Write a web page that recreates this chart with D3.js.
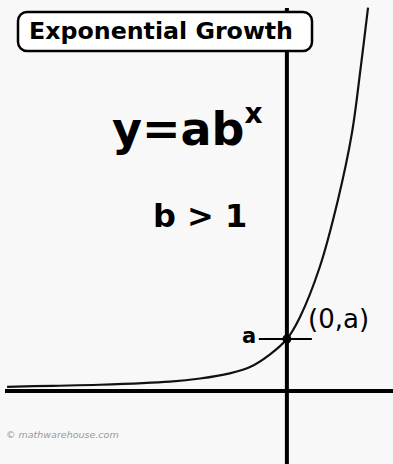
<!DOCTYPE html>
<html>
<head>
<meta charset="utf-8">
<script src="https://cdn.jsdelivr.net/npm/d3@7"></script>
<style>
  html, body { margin: 0; padding: 0; background: #ffffff; }
  svg { display: block; }
  text { font-family: "DejaVu Sans", Verdana, sans-serif; }
</style>
</head>
<body>
<svg id="chart" width="393" height="464"></svg>
<script>
// Sampled points of y = a·b^x (a = 1, b > 1), in axis units
const curveX = [-5.38, -4.50, -3.60, -2.25, -1.67, -1.10, -0.71, -0.33, 0, 0.25, 0.63, 0.98, 1.25, 1.42, 1.56];
const curveY = [0.08, 0.10, 0.12, 0.18, 0.24, 0.34, 0.46, 0.70, 1, 1.42, 2.38, 3.67, 4.96, 6.23, 7.37];

// y-intercept (0, a)
const interceptX = [0];
const interceptY = [1];

// Text labels
const titleText = "Exponential Growth";
const equationBase = "y=ab";
const equationExp = "x";
const conditionText = "b > 1";
const interceptLabel = "(0,a)";
const aLabel = "a";
const creditText = "© mathwarehouse.com";

const W = 393, H = 464;
const svg = d3.select("#chart");

// Axis-unit scales: origin at (287, 391), 52 px per unit
const x = d3.scaleLinear().domain([-5.42, 2.04]).range([5, 393]);
const y = d3.scaleLinear().domain([-1.404, 7.365]).range([464, 8]);

svg.append("rect").attr("width", W).attr("height", H).attr("fill", "#f8f8f8");

// Axes
svg.append("line")
  .attr("x1", x(-5.42)).attr("x2", x(2.04))
  .attr("y1", y(0)).attr("y2", y(0))
  .attr("stroke", "#000").attr("stroke-width", 4);
svg.append("line")
  .attr("x1", x(0)).attr("x2", x(0))
  .attr("y1", y(7.365)).attr("y2", y(-1.404))
  .attr("stroke", "#000").attr("stroke-width", 4);

// Growth curve
const pts = curveX.map((v, i) => [v, curveY[i]]);
svg.append("path")
  .datum(pts)
  .attr("fill", "none")
  .attr("stroke", "#111")
  .attr("stroke-width", 2.2)
  .attr("d", d3.line().x(d => x(d[0])).y(d => y(d[1])).curve(d3.curveCatmullRom.alpha(0.5)));

// Tick and dot at the intercept
svg.append("line")
  .attr("x1", x(interceptX[0] - 0.54)).attr("x2", x(interceptX[0] + 0.48))
  .attr("y1", y(interceptY[0])).attr("y2", y(interceptY[0]))
  .attr("stroke", "#000").attr("stroke-width", 2);
svg.append("circle")
  .attr("cx", x(interceptX[0])).attr("cy", y(interceptY[0]))
  .attr("r", 4.5).attr("fill", "#000");

svg.append("text")
  .attr("x", x(interceptX[0]) - 45).attr("y", y(interceptY[0]) + 4)
  .attr("font-size", 21).attr("font-weight", "bold").attr("fill", "#000")
  .text(aLabel);
svg.append("text")
  .attr("x", 308).attr("y", 328)
  .attr("font-size", 26).attr("fill", "#000")
  .text(interceptLabel);

// Title box
svg.append("rect")
  .attr("x", 18).attr("y", 12).attr("width", 294).attr("height", 39)
  .attr("rx", 9).attr("ry", 9)
  .attr("fill", "#ffffff").attr("stroke", "#000").attr("stroke-width", 2.5);
svg.append("text")
  .attr("x", 29).attr("y", 39)
  .attr("font-size", 23).attr("font-weight", "bold").attr("fill", "#000")
  .attr("textLength", 264).attr("lengthAdjust", "spacingAndGlyphs")
  .text(titleText);

// Equation
const eq = svg.append("text")
  .attr("x", 112).attr("y", 145)
  .attr("font-size", 46).attr("font-weight", "bold").attr("fill", "#000");
eq.append("tspan").text(equationBase);
eq.append("tspan").attr("font-size", 28).attr("dy", -22).text(equationExp);

svg.append("text")
  .attr("x", 153).attr("y", 227)
  .attr("font-size", 32).attr("font-weight", "bold").attr("fill", "#000")
  .text(conditionText);

// Credit line
svg.append("text")
  .attr("x", 6).attr("y", 438)
  .attr("font-size", 9.5).attr("font-style", "italic").attr("fill", "#999")
  .text(creditText);
</script>
</body>
</html>
